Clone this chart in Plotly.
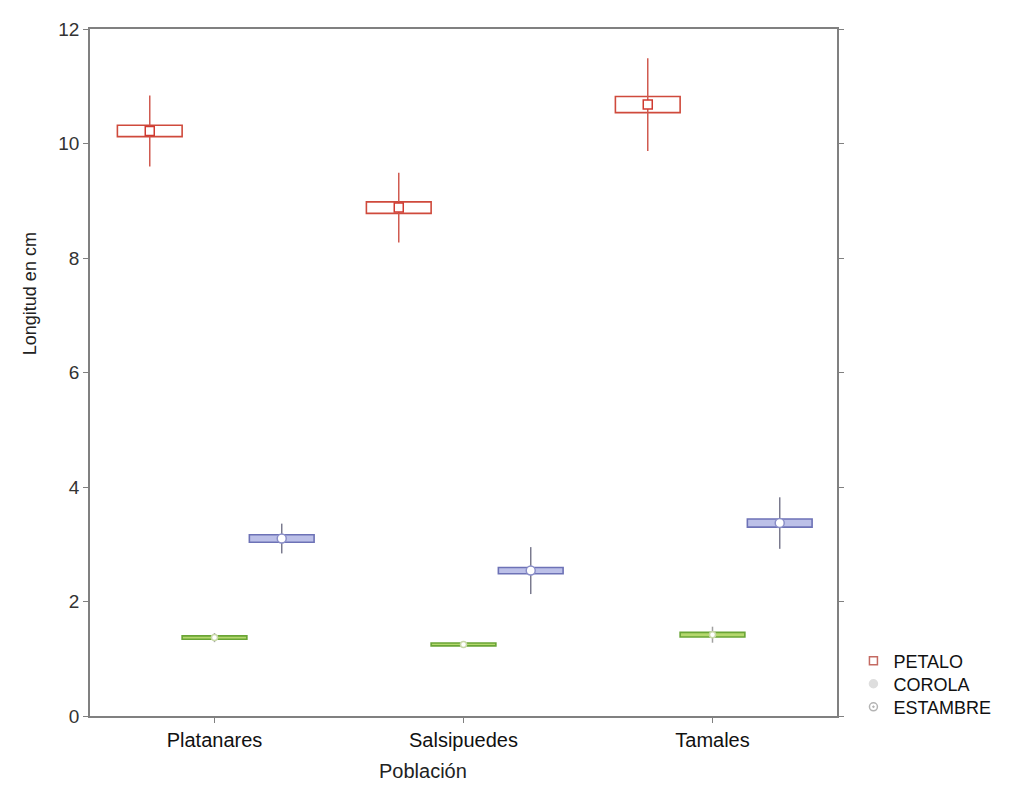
import plotly.graph_objects as go

# ---- data ----
poblaciones = ["Platanares", "Salsipuedes", "Tamales"]
series = ["PETALO", "COROLA", "ESTAMBRE"]

petalo_mean = [10.22, 8.88, 10.68]
petalo_se = [0.10, 0.10, 0.14]
petalo_sd = [0.62, 0.61, 0.81]

corola_mean = [1.37, 1.25, 1.42]
corola_se = [0.03, 0.025, 0.04]
corola_sd = [0.08, 0.05, 0.14]

estambre_mean = [3.10, 2.54, 3.37]
estambre_se = [0.065, 0.055, 0.07]
estambre_sd = [0.26, 0.41, 0.45]

y_ticks = [0, 2, 4, 6, 8, 10, 12]

# ---- styles ----
offsets = {"PETALO": -0.26, "COROLA": 0.0, "ESTAMBRE": 0.27}
box_w = 0.26
styles = {
    "PETALO": dict(line="#cf4a3c", fill="rgba(255,255,255,1)", whisk="#d05a50",
                   sym="square", msize=9, mline="#cf3a30", mfill="white",
                   leg_sym="square-open", leg_col="#c46a62", legend="legend", ly=0.080),
    "COROLA": dict(line="#6aa536", fill="#b5d86e", whisk="#a0a0a0",
                   sym="circle", msize=6, mline="#c8d8a8", mfill="white",
                   leg_sym="circle", leg_col="#dedede", legend="legend2", ly=0.0465),
    "ESTAMBRE": dict(line="#6d72b6", fill="#bcc0e8", whisk="#7a7a8e",
                     sym="circle", msize=9, mline="#8a8ec8", mfill="white",
                     leg_sym="circle-open-dot", leg_col="#b4b4b4", legend="legend3", ly=0.013),
}
data = {
    "PETALO": (petalo_mean, petalo_se, petalo_sd),
    "COROLA": (corola_mean, corola_se, corola_sd),
    "ESTAMBRE": (estambre_mean, estambre_se, estambre_sd),
}

fig = go.Figure()
cat_pos = list(range(1, len(poblaciones) + 1))

for s in series:
    m, se, sd = data[s]
    st = styles[s]
    xs = [c + offsets[s] for c in cat_pos]
    # box: mean +/- SE
    fig.add_trace(go.Bar(
        x=xs, y=[2 * e for e in se], base=[a - e for a, e in zip(m, se)],
        width=box_w, marker=dict(color=st["fill"], line=dict(color=st["line"], width=1.6)),
        showlegend=False, hoverinfo="skip"))

for s in series:
    m, se, sd = data[s]
    st = styles[s]
    xs = [c + offsets[s] for c in cat_pos]
    # whiskers: mean +/- SD, and mean marker
    fig.add_trace(go.Scatter(
        x=xs, y=m, mode="markers",
        marker=dict(symbol=st["sym"], size=st["msize"], color=st["mfill"],
                    line=dict(color=st["mline"], width=1.5)),
        error_y=dict(type="data", array=sd, symmetric=True, width=0,
                     color=st["whisk"], thickness=1.5),
        showlegend=False))

legend_layouts = {}
for s in series:
    st = styles[s]
    fig.add_trace(go.Scatter(
        x=[None], y=[None], mode="markers", name=s, legend=st["legend"],
        marker=dict(symbol=st["leg_sym"], size=8, color=st["leg_col"],
                    line=dict(color=st["leg_col"], width=1.5))))
    legend_layouts[st["legend"]] = dict(
        x=1.022, y=st["ly"], xanchor="left", yanchor="middle",
        font=dict(size=18, color="#111"), bgcolor="rgba(0,0,0,0)",
        itemwidth=30, borderwidth=0)

fig.update_layout(**legend_layouts)

fig.update_layout(
    width=1013, height=782,
    margin=dict(l=82, r=184, t=11, b=74),
    plot_bgcolor="white", paper_bgcolor="white",
    barmode="overlay",
    font=dict(family="Liberation Sans, Arial, sans-serif", color="#222", size=19),
    xaxis=dict(range=[0.5, 3.5], tickvals=cat_pos, ticktext=poblaciones,
               showgrid=False, zeroline=False, showline=True, linecolor="#808080",
               linewidth=1.5, mirror=True, ticks="outside", ticklen=5,
               tickcolor="#808080", tickfont=dict(size=20, color="#111")),
    yaxis=dict(range=[0, 12], tickvals=y_ticks, showgrid=False, zeroline=False,
               showline=True, linecolor="#808080", linewidth=1.5, mirror="ticks",
               ticks="outside", ticklen=5, tickcolor="#808080",
               tickfont=dict(size=19, color="#333")),
    annotations=[
        dict(text="Longitud en cm", xref="paper", yref="paper", x=-0.0803, y=0.614,
             xanchor="center", yanchor="middle", textangle=-90, showarrow=False,
             font=dict(size=18, color="#222")),
        dict(text="Población", xref="paper", yref="paper", x=0.446, y=-0.0795,
             xanchor="center", yanchor="middle", showarrow=False,
             font=dict(size=20, color="#222")),
    ],
)

fig.write_html("out.html")
